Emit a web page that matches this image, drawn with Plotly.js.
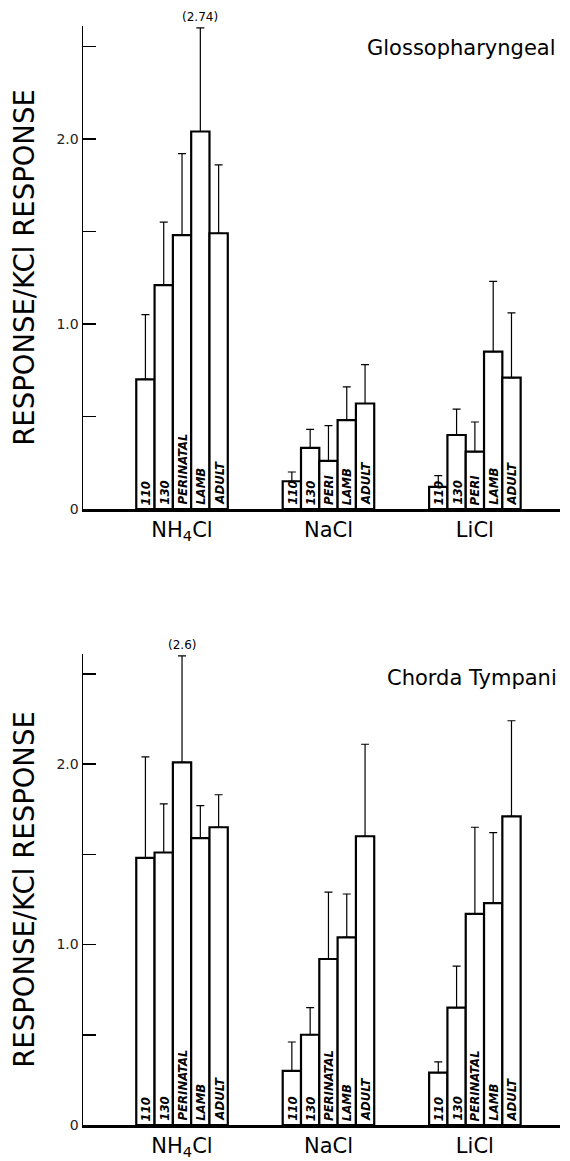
<!DOCTYPE html>
<html>
<head>
<meta charset="utf-8">
<script src="https://cdn.plot.ly/plotly-3.0.1.min.js"></script>
<style>html,body{margin:0;padding:0;background:#fff;}#chart{width:570px;height:1161px;}</style>
</head>
<body>
<div id="chart"></div>
<script>
// ---- data ----
var groups = ['NH<sub>4</sub>Cl', 'NaCl', 'LiCl'];
var ages = ['110', '130', 'PERINATAL', 'LAMB', 'ADULT'];

// Glossopharyngeal panel (top)
var glossoLabels = ['110','130','PERINATAL','LAMB','ADULT', '110','130','PERI','LAMB','ADULT', '110','130','PERI','LAMB','ADULT'];
var glossoMean = [0.70, 1.21, 1.48, 2.04, 1.49,  0.15, 0.33, 0.26, 0.48, 0.57,  0.12, 0.40, 0.31, 0.85, 0.71];
var glossoTop  = [1.05, 1.55, 1.92, 2.60, 1.86,  0.20, 0.43, 0.45, 0.66, 0.78,  0.18, 0.54, 0.47, 1.23, 1.06];
var glossoNote = '(2.74)';

// Chorda Tympani panel (bottom)
var chordaLabels = ['110','130','PERINATAL','LAMB','ADULT', '110','130','PERINATAL','LAMB','ADULT', '110','130','PERINATAL','LAMB','ADULT'];
var chordaMean = [1.48, 1.51, 2.01, 1.59, 1.65,  0.30, 0.50, 0.92, 1.04, 1.60,  0.29, 0.65, 1.17, 1.23, 1.71];
var chordaTop  = [2.04, 1.78, 2.60, 1.77, 1.83,  0.46, 0.65, 1.29, 1.28, 2.11,  0.35, 0.88, 1.65, 1.62, 2.24];
var chordaNote = '(2.6)';

var yTickVals = [0, 0.5, 1.0, 1.5, 2.0, 2.5];
var yTickText = ['0', '', '1.0', '', '2.0', ''];
var yTitle = 'RESPONSE/KCl RESPONSE';

// ---- build ----
var GAP = 8;
var xs = [], zeros = [];
groups.forEach(function(g, gi){
  ages.forEach(function(a, ai){ xs.push(gi*GAP + (ai-2)); zeros.push(0); });
});
function diff(top, mean){ return top.map(function(t,i){ return +(t-mean[i]).toFixed(3); }); }

var FONT = 'DejaVu Sans, Lato, sans-serif';
var LBLFONT = {family: 'DejaVu Sans Condensed, Liberation Sans Narrow, DejaVu Sans, sans-serif', size: 13, color: '#000', weight: 'bold', style: 'italic'};

function barTrace(mean, top, xa, ya){
  return {
    type: 'bar', x: xs, y: mean, xaxis: xa, yaxis: ya, width: 1,
    marker: {color: '#fff', line: {color: '#000', width: 2.2}},
    cliponaxis: false, hoverinfo: 'y',
    error_y: {type: 'data', symmetric: false, array: diff(top, mean), arrayminus: zeros,
              color: '#000', thickness: 1.2, width: 4}
  };
}

var data = [
  barTrace(glossoMean, glossoTop, 'x', 'y'),
  barTrace(chordaMean, chordaTop, 'x2', 'y2')
];

var H = 1161;
function xAxis(anchor){
  return {anchor: anchor, domain: [0,1], range: [-5.41, 20.65], showgrid: false, zeroline: false,
    showline: true, linecolor: '#000', linewidth: 2.5, ticks: '',
    tickmode: 'array', tickvals: [0, GAP, 2*GAP], ticktext: groups,
    tickfont: {family: FONT, size: 21, color: '#000'}, fixedrange: true};
}
function yAxis(anchor, dom){
  return {anchor: anchor, domain: dom, range: [0, 2.61], showgrid: false, zeroline: false,
    showline: true, linecolor: '#000', linewidth: 1.5, ticks: 'inside', ticklen: 13, tickwidth: 1.5,
    tickcolor: '#000', tickmode: 'array', tickvals: yTickVals, ticktext: yTickText,
    tickfont: {family: FONT, size: 14, color: '#222'},
    title: {text: yTitle, font: {family: FONT, size: 27.5, color: '#000'}, standoff: 14}};
}

var annotations = [
  {xref: 'x domain', yref: 'y domain', x: 0.995, y: 0.955, xanchor: 'right', yanchor: 'middle',
   text: 'Glossopharyngeal', showarrow: false, font: {family: FONT, size: 21, color: '#000'}},
  {xref: 'x2 domain', yref: 'y2 domain', x: 0.998, y: 0.949, xanchor: 'right', yanchor: 'middle',
   text: 'Chorda Tympani', showarrow: false, font: {family: FONT, size: 21, color: '#000'}},
  {xref: 'x', yref: 'y', x: xs[3], y: glossoTop[3], yanchor: 'bottom', yshift: 2,
   text: glossoNote, showarrow: false, font: {family: FONT, size: 12, color: '#000'}},
  {xref: 'x2', yref: 'y2', x: xs[2], y: chordaTop[2], yanchor: 'bottom', yshift: 2,
   text: chordaNote, showarrow: false, font: {family: FONT, size: 12, color: '#000'}}
];
function addLabels(labels, xa, ya){
  labels.forEach(function(t, i){
    annotations.push({xref: xa, yref: ya, x: xs[i], y: 0, xanchor: 'center', yanchor: 'bottom',
      yshift: 3, textangle: -90, text: t, showarrow: false, borderpad: 0, font: LBLFONT});
  });
}
addLabels(glossoLabels, 'x', 'y');
addLabels(chordaLabels, 'x2', 'y2');

var layout = {
  width: 570, height: H,
  margin: {l: 83, r: 10, t: 0, b: 0},
  paper_bgcolor: '#fff', plot_bgcolor: 'rgba(0,0,0,0)',
  showlegend: false,
  xaxis: xAxis('y'),
  yaxis: yAxis('x', [(H-509)/H, (H-26)/H]),
  xaxis2: xAxis('y2'),
  yaxis2: yAxis('x2', [(H-1125)/H, (H-654)/H]),
  annotations: annotations
};

Plotly.newPlot('chart', data, layout, {displayModeBar: false, staticPlot: true});
</script>
</body>
</html>
